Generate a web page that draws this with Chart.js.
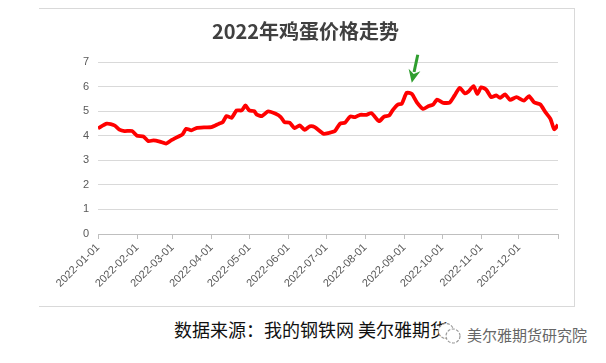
<!DOCTYPE html>
<html>
<head>
<meta charset="utf-8">
<script src="https://cdn.jsdelivr.net/npm/chart.js@4"></script>
<style>
  body { margin: 0; width: 606px; height: 363px; background: #fff; position: relative; overflow: hidden; font-family: "Noto Sans CJK SC", sans-serif; }
  #grafico { position: absolute; left: 39px; top: 8px; }
  #moldura { position: absolute; left: 39px; top: 8px; width: 536px; height: 299px; box-sizing: border-box;
    border-top: 1px solid #d9d9d9; border-right: 1px solid #d9d9d9; border-bottom: 1px solid #d9d9d9; pointer-events: none; }
  #fonte { position: absolute; left: 174px; top: 320px; font-size: 18px; line-height: 1; color: #111; white-space: nowrap; }
  #marca { position: absolute; left: 467px; top: 327px; font-size: 15px; line-height: 1; color: #666; white-space: nowrap; }
  #icone { position: absolute; left: 436px; top: 321px; }
</style>
</head>
<body>
<canvas id="grafico" width="536" height="299"></canvas>
<div id="moldura"></div>
<div id="fonte">数据来源：我的钢铁网 美尔雅期货</div>
<svg id="icone" width="28" height="26">
  <circle cx="10" cy="10" r="7.5" fill="#fff" stroke="#999" stroke-width="1.2" stroke-dasharray="3 1.5"/>
  <circle cx="17" cy="15" r="7" fill="#fff" stroke="#999" stroke-width="1.2" stroke-dasharray="3 1.5"/>
</svg>
<div id="marca">美尔雅期货研究院</div>
<script>
const titulo = "2022年鸡蛋价格走势";

// day of year (0 = 2022-01-01) and egg price
const dias = [0, 7, 13, 17, 21, 27, 31, 36, 40, 44, 49, 54, 58, 64, 67, 70, 74, 78, 85, 90,
  96, 99, 102, 106, 110, 114, 117, 120, 124, 126, 130, 135, 141, 145, 148, 152, 156, 160, 164, 168,
  172, 179, 183, 188, 192, 196, 200, 204, 208, 213, 217, 223, 227, 231, 234, 238, 241, 245, 249, 253,
  258, 262, 266, 269, 274, 279, 283, 287, 291, 294, 298, 301, 304, 308, 312, 316, 319, 323, 327, 332,
  338, 342, 346, 351, 355, 359, 362, 365];
const precos = [4.30, 4.49, 4.42, 4.25, 4.19, 4.19, 4.00, 3.97, 3.78, 3.81, 3.76, 3.68, 3.81, 3.97, 4.05, 4.28, 4.22, 4.31, 4.34, 4.35,
  4.49, 4.55, 4.80, 4.73, 5.03, 5.03, 5.23, 5.03, 5.00, 4.86, 4.80, 4.99, 4.89, 4.76, 4.55, 4.53, 4.31, 4.42, 4.24, 4.38,
  4.35, 4.08, 4.11, 4.19, 4.49, 4.53, 4.78, 4.76, 4.85, 4.85, 4.92, 4.59, 4.78, 4.82, 5.05, 5.27, 5.30, 5.75, 5.70, 5.36,
  5.09, 5.20, 5.27, 5.47, 5.34, 5.35, 5.64, 5.95, 5.73, 5.80, 6.02, 5.70, 5.97, 5.88, 5.57, 5.64, 5.54, 5.68, 5.46, 5.57,
  5.43, 5.61, 5.36, 5.27, 4.96, 4.69, 4.26, 4.45];

// month ticks
const diasMes = [0, 31, 59, 90, 120, 151, 181, 212, 243, 273, 304, 334, 365];
const rotulosMes = ["2022-01-01", "2022-02-01", "2022-03-01", "2022-04-01", "2022-05-01", "2022-06-01",
  "2022-07-01", "2022-08-01", "2022-09-01", "2022-10-01", "2022-11-01", "2022-12-01", ""];

const corTexto = "#595959";
const corGrade = "#d9d9d9";

// green arrow over the september peak
const seta = {
  id: "seta",
  afterDatasetsDraw(chart) {
    const { ctx, scales: { x, y } } = chart;
    let pico = dias.findIndex((d) => d > 230);
    dias.forEach((d, i) => {
      if (d > 230 && d < 260 && precos[i] > precos[pico]) pico = i;
    });
    const px = x.getPixelForValue(dias[pico]);
    const py = y.getPixelForValue(precos[pico]);
    const ponta = { x: px + 5, y: py - 10 };
    const cauda = { x: px + 11, y: py - 38 };
    const dx = ponta.x - cauda.x, dy = ponta.y - cauda.y;
    const len = Math.hypot(dx, dy);
    const ux = dx / len, uy = dy / len;
    const base = { x: ponta.x - ux * 13, y: ponta.y - uy * 13 };
    ctx.save();
    ctx.strokeStyle = "#2f9e2f";
    ctx.fillStyle = "#2f9e2f";
    ctx.lineWidth = 3;
    ctx.beginPath();
    ctx.moveTo(cauda.x, cauda.y);
    ctx.lineTo(base.x + ux * 2, base.y + uy * 2);
    ctx.stroke();
    ctx.beginPath();
    ctx.moveTo(ponta.x, ponta.y);
    ctx.lineTo(base.x - uy * 6, base.y + ux * 6);
    ctx.lineTo(base.x + ux * 4, base.y + uy * 4);
    ctx.lineTo(base.x + uy * 6, base.y - ux * 6);
    ctx.closePath();
    ctx.fill();
    ctx.restore();
  }
};

const ctx = document.getElementById("grafico").getContext("2d");

new Chart(ctx, {
  type: "line",
  data: {
    datasets: [{
      data: dias.map((d, i) => ({ x: d, y: precos[i] })),
      borderColor: "#ff0000",
      borderWidth: 3.8,
      pointRadius: 0,
      tension: 0.2,
      fill: false,
    }],
  },
  options: {
    responsive: false,
    animation: false,
    layout: { padding: { left: 14, right: 17, top: 0, bottom: 13 } },
    plugins: {
      legend: { display: false },
      tooltip: { enabled: false },
      title: {
        display: true,
        text: titulo,
        color: "#404040",
        font: { family: "'Noto Sans CJK SC', sans-serif", size: 20, weight: "bold", lineHeight: 1.2 },
        padding: { top: 11, bottom: 19 },
      },
    },
    scales: {
      x: {
        type: "linear",
        min: 0,
        max: 365,
        afterBuildTicks: (axis) => { axis.ticks = diasMes.map((v) => ({ value: v })); },
        afterFit: (axis) => { axis.height = 60; },
        ticks: {
          autoSkip: false,
          minRotation: 45,
          maxRotation: 45,
          color: corTexto,
          font: { family: "'Liberation Sans', sans-serif", size: 11 },
          padding: 2,
          callback: (value, index) => rotulosMes[index],
        },
        grid: { drawOnChartArea: false, drawTicks: true, tickLength: 5, color: "#bfbfbf" },
        border: { color: "#bfbfbf", width: 1 },
      },
      y: {
        min: 0,
        max: 7,
        afterFit: (axis) => { axis.width = 45; },
        ticks: {
          stepSize: 1,
          color: corTexto,
          padding: 9,
          font: { family: "'Liberation Sans', sans-serif", size: 11 },
        },
        grid: { color: corGrade, lineWidth: 1, drawTicks: false },
        border: { display: false },
      },
    },
  },
  plugins: [seta],
});
</script>
</body>
</html>
